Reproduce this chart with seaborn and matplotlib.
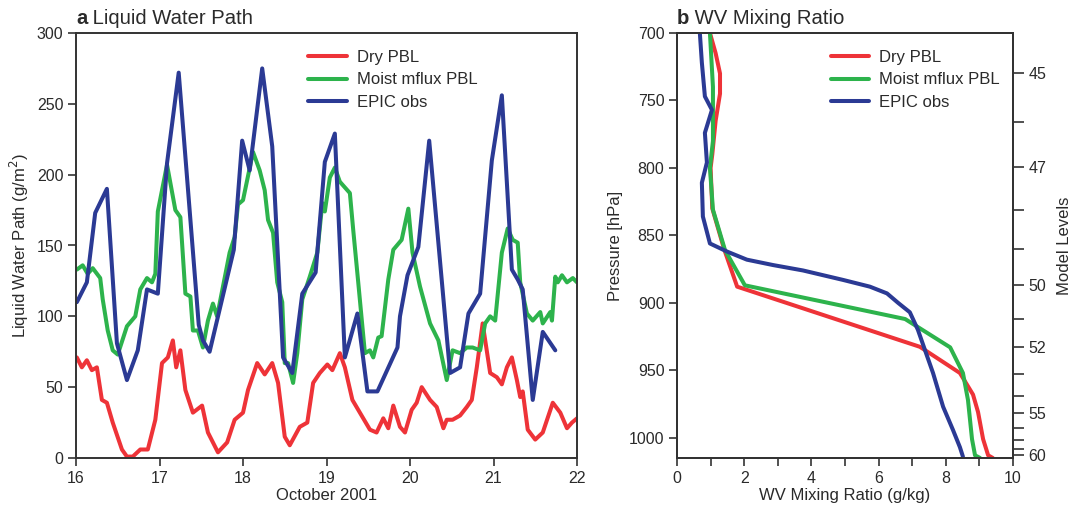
import numpy as np
import pandas as pd
import matplotlib
matplotlib.use("Agg")
import matplotlib.pyplot as plt
import seaborn as sns

# ---------------- data: panel a (Liquid Water Path, g/m2) ----------------
dry_day = [16.01, 16.07, 16.13, 16.19, 16.25, 16.31, 16.37, 16.44, 16.55, 16.61, 16.68, 16.77, 16.86,
           16.95, 17.03, 17.10, 17.16, 17.20, 17.25, 17.31, 17.40, 17.51, 17.58, 17.70, 17.81, 17.90,
           18.00, 18.06, 18.17, 18.26, 18.35, 18.42, 18.50, 18.56, 18.68, 18.77, 18.84, 18.92, 19.01,
           19.07, 19.16, 19.22, 19.31, 19.40, 19.52, 19.60, 19.68, 19.74, 19.80, 19.88, 19.94, 20.02,
           20.08, 20.14, 20.24, 20.32, 20.40, 20.44, 20.51, 20.60, 20.68, 20.74, 20.80, 20.87, 20.96,
           21.04, 21.10, 21.16, 21.22, 21.28, 21.32, 21.35, 21.41, 21.50, 21.59, 21.71, 21.80, 21.88,
           21.94, 22.00]
dry_lwp = [71, 64, 69, 62, 64, 41, 39, 25, 6, 1, 1, 6, 6,
           27, 67, 71, 83, 64, 76, 48, 32, 37, 18, 4, 11, 27,
           32, 48, 67, 59, 67, 53, 15, 9, 22, 25, 53, 60, 66,
           62, 74, 64, 41, 32, 20, 18, 28, 21, 37, 22, 18, 34,
           39, 50, 41, 36, 21, 27, 27, 30, 36, 41, 64, 95, 60,
           57, 52, 64, 71, 55, 43, 47, 20, 13, 18, 39, 32, 21,
           25, 28]

moist_day = [16.01, 16.08, 16.14, 16.20, 16.29, 16.32, 16.38, 16.44, 16.50, 16.61, 16.71, 16.77, 16.85,
             16.91, 16.95, 16.98, 17.09, 17.19, 17.25, 17.31, 17.37, 17.40, 17.46, 17.52, 17.58, 17.64,
             17.69, 17.76, 17.84, 17.90, 17.94, 18.00, 18.12, 18.20, 18.26, 18.30, 18.36, 18.41, 18.47,
             18.50, 18.54, 18.60, 18.65, 18.71, 18.80, 18.89, 18.95, 18.98, 19.04, 19.10, 19.16, 19.22,
             19.28, 19.32, 19.38, 19.46, 19.52, 19.56, 19.62, 19.66, 19.74, 19.80, 19.90, 19.98, 20.03,
             20.12, 20.24, 20.34, 20.44, 20.51, 20.60, 20.68, 20.75, 20.84, 20.90, 20.96, 21.02, 21.10,
             21.17, 21.23, 21.29, 21.32, 21.40, 21.47, 21.56, 21.59, 21.68, 21.70, 21.74, 21.77, 21.82,
             21.88, 21.95, 22.00]
moist_lwp = [133, 136, 130, 134, 127, 112, 90, 76, 73, 93, 100, 119, 127,
             124, 130, 174, 207, 175, 170, 116, 114, 90, 90, 78, 97, 109,
             100, 121, 145, 156, 179, 182, 216, 203, 189, 168, 159, 124, 110,
             67, 67, 53, 74, 112, 128, 145, 180, 174, 198, 205, 195, 191,
             187, 161, 124, 74, 76, 71, 85, 86, 126, 147, 154, 176, 145,
             121, 95, 83, 55, 76, 74, 78, 78, 76, 95, 100, 97, 145,
             162, 154, 152, 124, 102, 97, 103, 95, 103, 97, 128, 124, 129,
             124, 127, 124]

epic_day = [16.01, 16.13, 16.23, 16.37, 16.49, 16.61, 16.74, 16.85, 16.98, 17.09, 17.23, 17.47, 17.52,
            17.60, 17.89, 17.99, 18.08, 18.23, 18.35, 18.48, 18.59, 18.71, 18.87, 18.98, 19.10, 19.22,
            19.37, 19.49, 19.61, 19.85, 19.88, 19.97, 20.10, 20.23, 20.48, 20.60, 20.70, 20.84, 20.98,
            21.10, 21.22, 21.29, 21.35, 21.47, 21.59, 21.74]
epic_lwp = [110, 124, 173, 190, 81, 55, 76, 119, 116, 208, 272, 94, 83,
            75, 147, 224, 203, 275, 220, 71, 60, 116, 131, 209, 229, 71,
            102, 47, 47, 78, 100, 129, 149, 224, 60, 64, 102, 116, 210,
            256, 133, 126, 119, 41, 89, 76]

# ---------------- data: panel b (WV mixing ratio profiles) ----------------
dry_q = [0.98, 1.15, 1.28, 1.28, 1.15, 1.05, 1.00, 1.05, 1.40, 1.79, 7.23, 8.42, 8.81, 8.96, 9.11, 9.26, 9.40]
dry_p = [700, 715, 730, 745, 765, 790, 800, 830, 860, 888, 932.6, 952, 968, 981, 1001, 1013, 1015]

moist_q = [0.98, 1.07, 1.07, 0.98, 1.07, 1.43, 2.02, 6.79, 8.13, 8.51, 8.66, 8.78, 8.87, 9.02]
moist_p = [700, 740, 780, 800, 831, 861, 887, 912, 933, 952, 972, 1001, 1013, 1015]

epic_q = [0.68, 0.74, 0.83, 1.04, 0.83, 0.89, 0.74, 0.77, 0.98, 1.49, 2.08, 2.86, 3.75, 4.94, 5.74,
          6.25, 6.58, 6.93, 7.17, 7.38, 7.62, 7.92, 8.21, 8.42, 8.51]
epic_p = [700, 722, 747, 757, 774, 796, 811, 836, 856, 862, 868, 872, 876, 883, 888,
          893, 900, 907, 920, 935, 952, 977, 994, 1007, 1014]

series_names = ["Dry PBL", "Moist mflux PBL", "EPIC obs"]
series_colors = ["#EE3338", "#2DB34C", "#2B3A94"]

lwp_xticks = [16, 17, 18, 19, 20, 21, 22]
lwp_yticks = [0, 50, 100, 150, 200, 250, 300]
p_ticks = [700, 750, 800, 850, 900, 950, 1000]
q_ticks = [0, 2, 4, 6, 8, 10]
level_p = [730, 766, 799, 831, 860, 887, 912, 933, 953, 969, 982, 993, 1001.5, 1008, 1012.6]
level_labels = ["45", "", "47", "", "", "50", "", "52", "", "", "55", "", "", "", "60"]

# ---------------- style ----------------
sns.set_style("ticks")
plt.rcParams["font.family"] = ["Liberation Sans", "DejaVu Sans"]
text_col = "#2a2a2a"
edge_col = "#333333"
plt.rcParams.update({
    "axes.edgecolor": edge_col, "axes.linewidth": 1.4,
    "xtick.color": edge_col, "ytick.color": edge_col,
    "xtick.labelcolor": text_col, "ytick.labelcolor": text_col,
    "xtick.major.size": 6, "ytick.major.size": 6,
    "xtick.minor.size": 6, "ytick.minor.size": 6,
    "xtick.major.width": 1.2, "ytick.major.width": 1.2,
    "xtick.minor.width": 1.2,
    "xtick.labelsize": 11.5, "ytick.labelsize": 11.5,
    "axes.labelcolor": text_col, "text.color": text_col,
})

fig = plt.figure(figsize=(10.75, 5.11), dpi=100)
axa = fig.add_axes([76 / 1075, 53 / 511, 501 / 1075, 425 / 511])
axb = fig.add_axes([677 / 1075, 53 / 511, 336 / 1075, 425 / 511])

lw = 2.9

# panel a
dfa = pd.concat([
    pd.DataFrame({"day": dry_day, "lwp": dry_lwp, "run": series_names[0]}),
    pd.DataFrame({"day": moist_day, "lwp": moist_lwp, "run": series_names[1]}),
    pd.DataFrame({"day": epic_day, "lwp": epic_lwp, "run": series_names[2]}),
])
for name, col in zip(series_names, series_colors):
    sub = dfa[dfa["run"] == name]
    sns.lineplot(data=sub, x="day", y="lwp", ax=axa, color=col, lw=lw, label=name,
                 estimator=None, sort=False, solid_joinstyle="round")
axa.set_xlim(16, 22)
axa.set_ylim(0, 300)
axa.set_xticks(lwp_xticks)
axa.set_yticks(lwp_yticks)
axa.set_xticklabels([str(t) for t in lwp_xticks])
axa.set_xlabel("October 2001", fontsize=12, labelpad=2)
axa.set_ylabel("Liquid Water Path (g/m$^2$)", fontsize=12, labelpad=4)
axa.legend(loc="upper left", bbox_to_anchor=(0.464, 0.96), frameon=False, fontsize=12,
           handlelength=2.3, handletextpad=0.6, labelspacing=0.45, borderaxespad=0, borderpad=0)
axa.tick_params(axis="both", direction="out", pad=3)

# panel b
dfb = pd.concat([
    pd.DataFrame({"q": dry_q, "p": dry_p, "run": series_names[0]}),
    pd.DataFrame({"q": moist_q, "p": moist_p, "run": series_names[1]}),
    pd.DataFrame({"q": epic_q, "p": epic_p, "run": series_names[2]}),
])
for name, col in zip(series_names, series_colors):
    sub = dfb[dfb["run"] == name]
    sns.lineplot(data=sub, x="q", y="p", ax=axb, color=col, lw=lw, label=name,
                 estimator=None, sort=False, orient="y", solid_joinstyle="round")
axb.set_xlim(0, 10)
axb.set_ylim(1015, 700)
axb.set_xticks(q_ticks)
axb.set_xticks([1, 3, 5, 7, 9], minor=True)
axb.set_yticks(p_ticks)
axb.set_xlabel("WV Mixing Ratio (g/kg)", fontsize=12, labelpad=2)
axb.set_ylabel("Pressure [hPa]", fontsize=12, labelpad=4)
axb.legend(loc="upper left", bbox_to_anchor=(0.458, 0.96), frameon=False, fontsize=12,
           handlelength=2.3, handletextpad=0.6, labelspacing=0.45, borderaxespad=0, borderpad=0)
axb.tick_params(axis="both", which="both", direction="out", pad=3)

axr = axb.twinx()
axr.set_ylim(axb.get_ylim())
axr.set_yticks(level_p)
axr.set_yticklabels(level_labels)
axr.tick_params(axis="y", direction="out", length=8, width=1.2, pad=3, labelsize=11.5)
axr.set_ylabel("Model Levels", fontsize=12, labelpad=8)
for sp in axr.spines.values():
    sp.set_edgecolor(edge_col)
    sp.set_linewidth(1.4)

# panel titles
for ax, letter, title in [(axa, "a", "Liquid Water Path"), (axb, "b", "WV Mixing Ratio")]:
    t = ax.text(0.0, 1.012, letter, transform=ax.transAxes, fontsize=14.6, fontweight="bold",
                ha="left", va="bottom")
    ax.annotate(" " + title, xy=(1, 0), xycoords=t, fontsize=14.6, ha="left", va="bottom")

fig.savefig("out.png", dpi=100)
